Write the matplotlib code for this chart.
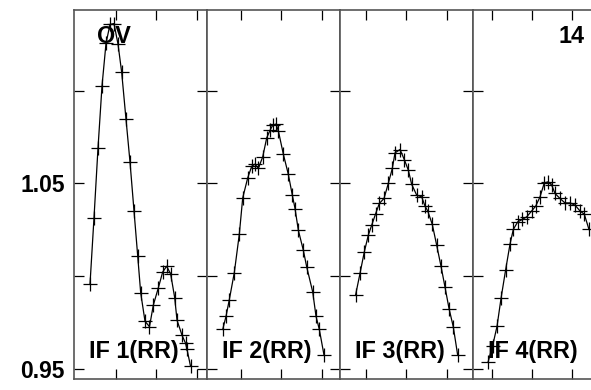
import matplotlib
matplotlib.use("Agg")
import matplotlib.pyplot as plt

plt.rcParams['font.family'] = ['Liberation Sans', 'DejaVu Sans']

# Data (x in tick units relative to each panel's first tick, y = relative value)
x1 = [-0.645, -0.546, -0.447, -0.347, -0.248, -0.149, -0.050, 0.050, 0.141, 0.248,
      0.347, 0.447, 0.539, 0.613, 0.720, 0.831, 0.926, 1.050, 1.159, 1.258,
      1.357, 1.456, 1.514, 1.638, 1.725, 1.762, 1.849]
y1 = [0.9957, 1.0314, 1.0689, 1.1026, 1.1255, 1.1357, 1.1362, 1.1251, 1.1099, 1.0847,
      1.0617, 1.0352, 1.0108, 0.9910, 0.9757, 0.9728, 0.9844, 0.9937, 1.0023, 1.0054,
      1.0011, 0.9885, 0.9763, 0.9682, 0.9639, 0.9606, 0.9515]

x2 = [-0.454, -0.372, -0.290, -0.166, -0.042, 0.042, 0.166, 0.266, 0.347, 0.429,
      0.538, 0.638, 0.720, 0.787, 0.868, 0.926, 1.050, 1.174, 1.273, 1.340,
      1.422, 1.546, 1.630, 1.779, 1.861, 1.943, 2.060]
y2 = [0.9713, 0.9784, 0.9874, 1.0020, 1.0227, 1.0422, 1.0530, 1.0593, 1.0604, 1.0581,
      1.0643, 1.0746, 1.0787, 1.0814, 1.0820, 1.0784, 1.0658, 1.0549, 1.0437, 1.0365,
      1.0248, 1.0140, 1.0050, 0.9915, 0.9784, 0.9713, 0.9574]

x3 = [-0.256, -0.149, -0.042, 0.057, 0.141, 0.241, 0.330, 0.447, 0.553, 0.653,
      0.720, 0.844, 0.950, 1.050, 1.134, 1.258, 1.382, 1.464, 1.531, 1.645,
      1.754, 1.861, 1.960, 2.060, 2.166, 2.275]
y3 = [0.9901, 1.0015, 1.0131, 1.0221, 1.0275, 1.0338, 1.0392, 1.0419, 1.0500, 1.0581,
      1.0665, 1.0683, 1.0629, 1.0572, 1.0495, 1.0437, 1.0428, 1.0378, 1.0352, 1.0279,
      1.0167, 1.0054, 0.9942, 0.9826, 0.9727, 0.9574]

x4 = [-0.092, 0.020, 0.132, 0.231, 0.347, 0.454, 0.536, 0.645, 0.759, 0.868,
      0.992, 1.092, 1.199, 1.305, 1.404, 1.489, 1.571, 1.695, 1.819, 1.943,
      2.067, 2.191, 2.298, 2.414]
y4 = [0.9536, 0.9622, 0.9730, 0.9880, 1.0036, 1.0173, 1.0252, 1.0293, 1.0306, 1.0320,
      1.0352, 1.0378, 1.0428, 1.0503, 1.0509, 1.0491, 1.0446, 1.0419, 1.0395, 1.0395,
      1.0383, 1.0352, 1.0334, 1.0252]

series_x = [x1, x2, x3, x4]
series_y = [y1, y2, y3, y4]
panel_labels = ["IF 1(RR)", "IF 2(RR)", "IF 3(RR)", "IF 4(RR)"]
x_lo = [-1.042, -0.844, -0.645, -0.464]
ytick_vals = [0.95, 1.0, 1.05, 1.1]
ytick_labels = ["0.95", "", "1.05", ""]
xtick_vals = [0, 1, 2]

W, H = 591, 390
fig = plt.figure(figsize=(W / 100, H / 100), dpi=100)

left0 = 74
pw = 133
top_px, bot_px = 10, 379
spine_c = '#555555'
for i in range(4):
    l = left0 + i * pw
    ax = fig.add_axes([l / W, (H - bot_px) / H, pw / W, (bot_px - top_px) / H])
    ax.plot(series_x[i], series_y[i], color='black', lw=0.9, marker='+',
            ms=10, mew=0.9)
    ax.set_xlim(x_lo[i], x_lo[i] + 3.30)
    ax.set_ylim(0.9446, 1.1435)
    ax.set_xticks(xtick_vals)
    ax.set_xticklabels([])
    ax.set_yticks(ytick_vals)
    if i == 0:
        ax.set_yticklabels(ytick_labels, fontsize=16.5, fontweight='bold')
    else:
        ax.set_yticklabels([])
    ax.tick_params(direction='in', length=7.5, width=0.9, color='black',
                   top=True, right=True, bottom=True, left=True, pad=6.5)
    for s in ax.spines.values():
        s.set_color(spine_c)
        s.set_linewidth(1.2)
    ax.text(0.113, 0.057, panel_labels[i], transform=ax.transAxes,
            fontsize=16.8, fontweight='bold', ha='left', va='baseline')
    if i == 0:
        ax.text(0.174, 0.911, "OV", transform=ax.transAxes,
                fontsize=16.8, fontweight='bold', ha='left', va='baseline')
    if i == 3:
        ax.text(0.838, 0.911, "14", transform=ax.transAxes,
                fontsize=16.8, fontweight='bold', ha='right', va='baseline')

fig.savefig("out.png", dpi=100)
